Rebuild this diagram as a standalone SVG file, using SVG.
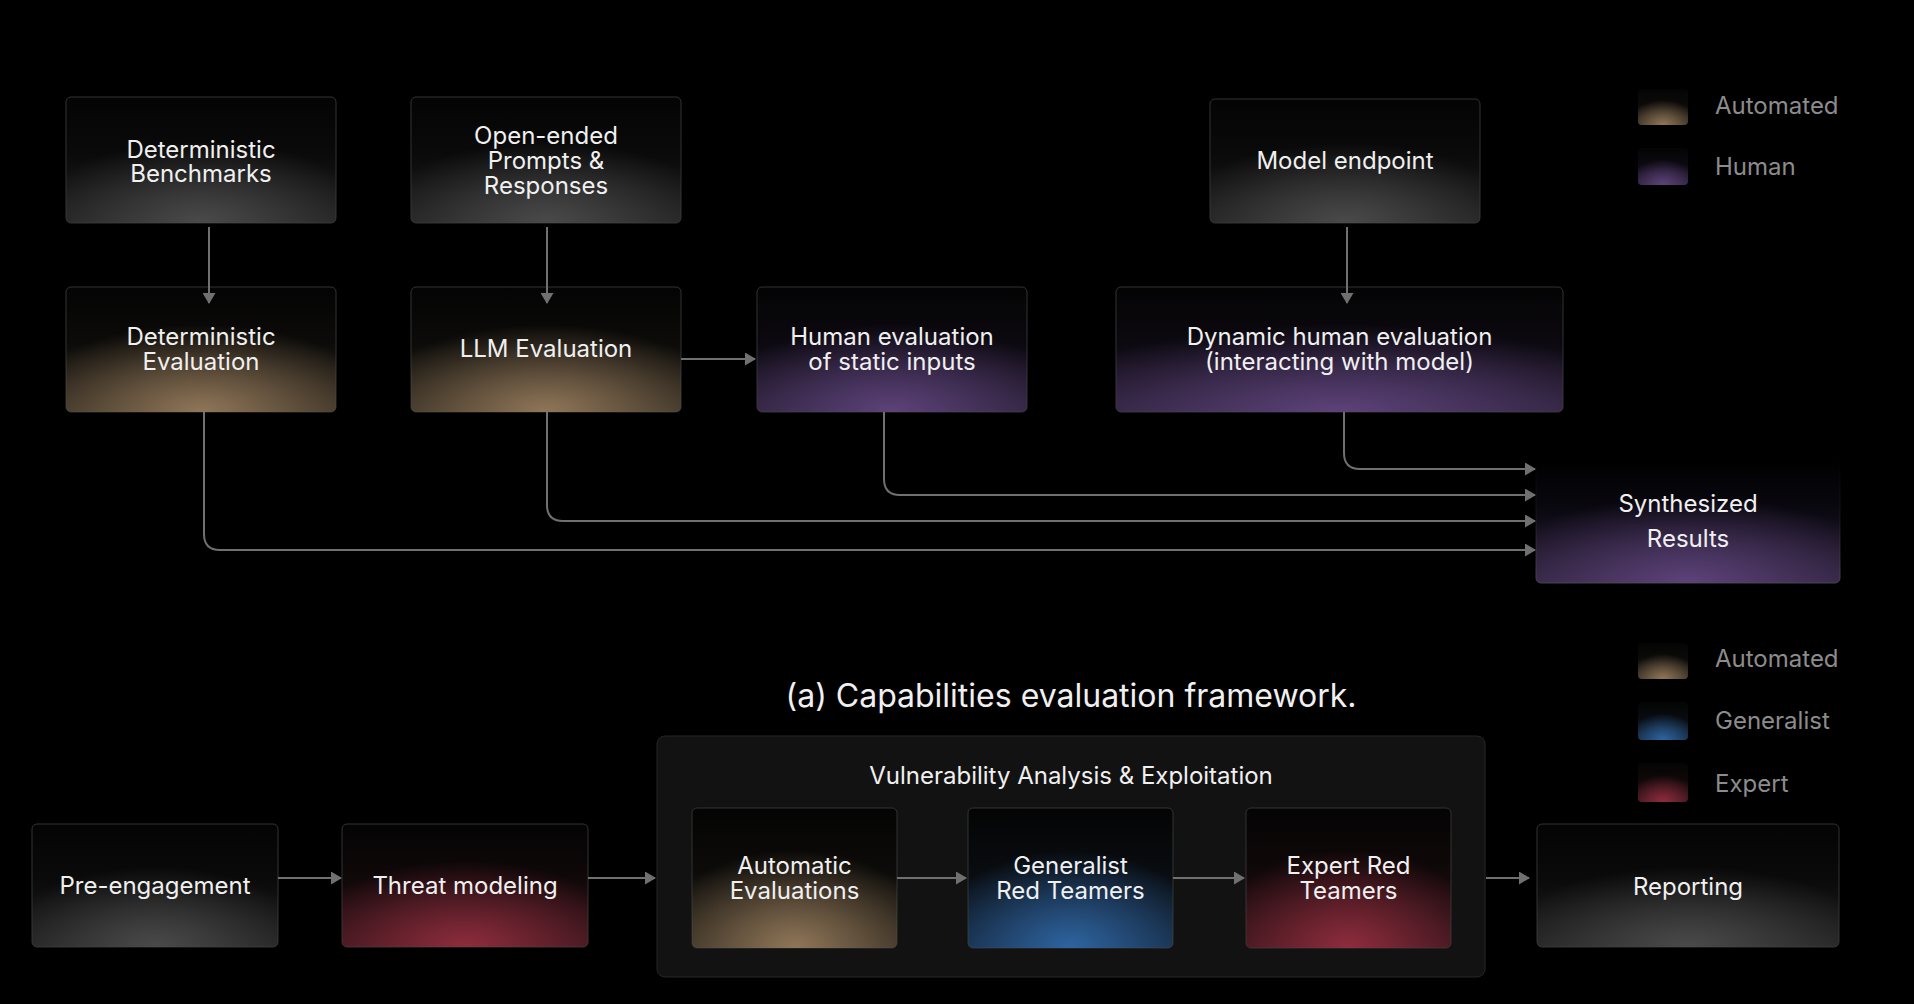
<svg xmlns="http://www.w3.org/2000/svg" width="1914" height="1004" viewBox="0 0 1914 1004">
<style>
.t{font-family:Inter,"Noto Sans","Liberation Sans",sans-serif;font-size:24px;fill:#f0f0f0;text-anchor:middle}
.tl{font-size:24px}
.cap{font-family:Inter,"Noto Sans","Liberation Sans",sans-serif;font-size:32px;fill:#f0f0f0;text-anchor:middle}
.lg{font-family:Inter,"Noto Sans","Liberation Sans",sans-serif;font-size:24px;fill:#8c8c8c}
.box{stroke:#333333;stroke-width:1}
.glow{stroke:none}
.conn{stroke:#707070;stroke-width:2;fill:none;marker-end:url(#arr)}
</style>
<defs>
<marker id="arr" markerUnits="userSpaceOnUse" markerWidth="11" markerHeight="13" refX="10" refY="6.5" orient="auto">
<path d="M0,0 L11,6.5 L0,13 z" fill="#707070"/>
</marker>
<linearGradient id="gN" x1="0" y1="0" x2="0" y2="1"><stop offset="0" stop-color="#040404"/><stop offset="0.45" stop-color="#0a0a0a"/><stop offset="1" stop-color="#202020"/></linearGradient>
<radialGradient id="rN" cx="0.5" cy="1" r="0.65"><stop offset="0" stop-color="#4a4a4a"/><stop offset="1" stop-color="#4a4a4a" stop-opacity="0"/></radialGradient>
<linearGradient id="hN" x1="0" y1="0" x2="1" y2="0"><stop offset="0" stop-color="#555" stop-opacity="0.3"/><stop offset="0.5" stop-color="#9a9a9a"/><stop offset="1" stop-color="#555" stop-opacity="0.3"/></linearGradient>

<linearGradient id="gA" x1="0" y1="0" x2="0" y2="1"><stop offset="0" stop-color="#040404"/><stop offset="0.45" stop-color="#0c0b09"/><stop offset="1" stop-color="#2f291f"/></linearGradient>
<radialGradient id="rA" cx="0.5" cy="1" r="0.7"><stop offset="0" stop-color="#907658"/><stop offset="1" stop-color="#907658" stop-opacity="0"/></radialGradient>
<linearGradient id="hA" x1="0" y1="0" x2="1" y2="0"><stop offset="0" stop-color="#6a5a44" stop-opacity="0.4"/><stop offset="0.5" stop-color="#e0c49a"/><stop offset="1" stop-color="#6a5a44" stop-opacity="0.4"/></linearGradient>

<linearGradient id="gH" x1="0" y1="0" x2="0" y2="1"><stop offset="0" stop-color="#040404"/><stop offset="0.45" stop-color="#0c0910"/><stop offset="1" stop-color="#2a1f37"/></linearGradient>
<radialGradient id="rH" cx="0.5" cy="1" r="0.7"><stop offset="0" stop-color="#5c4279"/><stop offset="1" stop-color="#5c4279" stop-opacity="0"/></radialGradient>
<linearGradient id="hH" x1="0" y1="0" x2="1" y2="0"><stop offset="0" stop-color="#4a3a5c" stop-opacity="0.4"/><stop offset="0.5" stop-color="#9c7cc0"/><stop offset="1" stop-color="#4a3a5c" stop-opacity="0.4"/></linearGradient>

<linearGradient id="gG" x1="0" y1="0" x2="0" y2="1"><stop offset="0" stop-color="#040404"/><stop offset="0.45" stop-color="#090c10"/><stop offset="1" stop-color="#14253a"/></linearGradient>
<radialGradient id="rG" cx="0.5" cy="1" r="0.7"><stop offset="0" stop-color="#2e64a0"/><stop offset="1" stop-color="#2e64a0" stop-opacity="0"/></radialGradient>
<linearGradient id="hG" x1="0" y1="0" x2="1" y2="0"><stop offset="0" stop-color="#2a4a70" stop-opacity="0.4"/><stop offset="0.5" stop-color="#5a96e0"/><stop offset="1" stop-color="#2a4a70" stop-opacity="0.4"/></linearGradient>

<linearGradient id="gE" x1="0" y1="0" x2="0" y2="1"><stop offset="0" stop-color="#040404"/><stop offset="0.45" stop-color="#100809"/><stop offset="1" stop-color="#33141b"/></linearGradient>
<radialGradient id="rE" cx="0.5" cy="1" r="0.7"><stop offset="0" stop-color="#8e2c3c"/><stop offset="1" stop-color="#8e2c3c" stop-opacity="0"/></radialGradient>
<linearGradient id="hE" x1="0" y1="0" x2="1" y2="0"><stop offset="0" stop-color="#6a2a34" stop-opacity="0.4"/><stop offset="0.5" stop-color="#e85468"/><stop offset="1" stop-color="#6a2a34" stop-opacity="0.4"/></linearGradient>

<linearGradient id="sS" x1="0" y1="0" x2="0" y2="1"><stop offset="0" stop-color="#333" stop-opacity="0"/><stop offset="0.5" stop-color="#333" stop-opacity="0.4"/><stop offset="1" stop-color="#444"/></linearGradient>
<linearGradient id="gS" x1="0" y1="0" x2="0" y2="1"><stop offset="0" stop-color="#000"/><stop offset="0.4" stop-color="#0a0810"/><stop offset="1" stop-color="#2c2139"/></linearGradient>
</defs>

<rect width="1914" height="1004" fill="#000"/>

<!-- top section nodes -->
<g id="det-bench">
<rect class="box" x="66" y="97" width="270" height="126" rx="5" fill="url(#gN)"/>
<rect class="glow" x="66" y="97" width="270" height="126" rx="5" fill="url(#rN)"/>
<line x1="70" y1="222.5" x2="332" y2="222.5" stroke="url(#hN)" stroke-width="1.5"/>
<text class="t" x="201" y="158">Deterministic</text>
<text class="t" x="201" y="182">Benchmarks</text>
</g>
<g id="open-ended">
<rect class="box" x="411" y="97" width="270" height="126" rx="5" fill="url(#gN)"/>
<rect class="glow" x="411" y="97" width="270" height="126" rx="5" fill="url(#rN)"/>
<line x1="415" y1="222.5" x2="677" y2="222.5" stroke="url(#hN)" stroke-width="1.5"/>
<text class="t" x="546" y="144">Open-ended</text>
<text class="t" x="546" y="169">Prompts &amp;</text>
<text class="t" x="546" y="194">Responses</text>
</g>
<g id="model-endpoint">
<rect class="box" x="1210" y="99" width="270" height="124" rx="5" fill="url(#gN)"/>
<rect class="glow" x="1210" y="99" width="270" height="124" rx="5" fill="url(#rN)"/>
<line x1="1214" y1="222.5" x2="1476" y2="222.5" stroke="url(#hN)" stroke-width="1.5"/>
<text class="t" x="1345" y="169">Model endpoint</text>
</g>
<g id="det-eval">
<rect class="box" x="66" y="287" width="270" height="125" rx="5" fill="url(#gA)"/>
<rect class="glow" x="66" y="287" width="270" height="125" rx="5" fill="url(#rA)"/>
<line x1="70" y1="411.5" x2="332" y2="411.5" stroke="url(#hA)" stroke-width="1.5"/>
<text class="t" x="201" y="345">Deterministic</text>
<text class="t" x="201" y="370">Evaluation</text>
</g>
<g id="llm-eval">
<rect class="box" x="411" y="287" width="270" height="125" rx="5" fill="url(#gA)"/>
<rect class="glow" x="411" y="287" width="270" height="125" rx="5" fill="url(#rA)"/>
<line x1="415" y1="411.5" x2="677" y2="411.5" stroke="url(#hA)" stroke-width="1.5"/>
<text class="t" x="546" y="357">LLM Evaluation</text>
</g>
<g id="human-eval">
<rect class="box" x="757" y="287" width="270" height="125" rx="5" fill="url(#gH)"/>
<rect class="glow" x="757" y="287" width="270" height="125" rx="5" fill="url(#rH)"/>
<line x1="761" y1="411.5" x2="1023" y2="411.5" stroke="url(#hH)" stroke-width="1.5"/>
<text class="t" x="892" y="345">Human evaluation</text>
<text class="t" x="892" y="370">of static inputs</text>
</g>
<g id="dynamic-eval">
<rect class="box" x="1116" y="287" width="447" height="125" rx="5" fill="url(#gH)"/>
<rect class="glow" x="1116" y="287" width="447" height="125" rx="5" fill="url(#rH)"/>
<line x1="1120" y1="411.5" x2="1559" y2="411.5" stroke="url(#hH)" stroke-width="1.5"/>
<text class="t" x="1339.5" y="345">Dynamic human evaluation</text>
<text class="t" x="1339.5" y="370">(interacting with model)</text>
</g>
<g id="synthesized">
<rect x="1536" y="460" width="304" height="123" rx="5" fill="url(#gS)" stroke="url(#sS)" stroke-width="1"/>
<rect class="glow" x="1536" y="460" width="304" height="123" rx="5" fill="url(#rH)"/>
<line x1="1540" y1="582.5" x2="1836" y2="582.5" stroke="url(#hH)" stroke-width="1" opacity="0.7"/>
<text class="t tl" x="1688" y="512">Synthesized</text>
<text class="t tl" x="1688" y="547">Results</text>
</g>

<!-- legend top -->
<g id="legend-top">
<rect x="1638" y="89" width="50" height="36" rx="4" fill="url(#gA)"/>
<rect x="1638" y="89" width="50" height="36" rx="4" fill="url(#rA)"/>
<line x1="1642" y1="124.5" x2="1684" y2="124.5" stroke="url(#hA)" stroke-width="1.5"/>
<text class="lg" x="1715" y="114">Automated</text>
<rect x="1638" y="148" width="50" height="37" rx="4" fill="url(#gH)"/>
<rect x="1638" y="148" width="50" height="37" rx="4" fill="url(#rH)"/>
<line x1="1642" y1="184.5" x2="1684" y2="184.5" stroke="url(#hH)" stroke-width="1.5"/>
<text class="lg" x="1715" y="175">Human</text>
</g>

<text class="cap" x="1071" y="707">(a) Capabilities evaluation framework.</text>

<!-- legend bottom -->
<g id="legend-bottom">
<rect x="1638" y="643" width="50" height="36" rx="4" fill="url(#gA)"/>
<rect x="1638" y="643" width="50" height="36" rx="4" fill="url(#rA)"/>
<line x1="1642" y1="678.5" x2="1684" y2="678.5" stroke="url(#hA)" stroke-width="1.5"/>
<text class="lg" x="1715" y="667">Automated</text>
<rect x="1638" y="702" width="50" height="38" rx="4" fill="url(#gG)"/>
<rect x="1638" y="702" width="50" height="38" rx="4" fill="url(#rG)"/>
<line x1="1642" y1="739.5" x2="1684" y2="739.5" stroke="url(#hG)" stroke-width="1.5"/>
<text class="lg" x="1715" y="729">Generalist</text>
<rect x="1638" y="763" width="50" height="39" rx="4" fill="url(#gE)"/>
<rect x="1638" y="763" width="50" height="39" rx="4" fill="url(#rE)"/>
<line x1="1642" y1="801.5" x2="1684" y2="801.5" stroke="url(#hE)" stroke-width="1.5"/>
<text class="lg" x="1715" y="792">Expert</text>
</g>

<!-- bottom section -->
<g id="vuln-container">
<rect x="657" y="736" width="828" height="241" rx="8" fill="#121212" stroke="#262626" stroke-width="1"/>
<text class="t" x="1071" y="784">Vulnerability Analysis &amp; Exploitation</text>
</g>
<g id="pre-engagement">
<rect class="box" x="32" y="824" width="246" height="123" rx="5" fill="url(#gN)"/>
<rect class="glow" x="32" y="824" width="246" height="123" rx="5" fill="url(#rN)"/>
<line x1="36" y1="946.5" x2="274" y2="946.5" stroke="url(#hN)" stroke-width="1.5"/>
<text class="t" x="155" y="894">Pre-engagement</text>
</g>
<g id="threat-modeling">
<rect class="box" x="342" y="824" width="246" height="123" rx="5" fill="url(#gE)"/>
<rect class="glow" x="342" y="824" width="246" height="123" rx="5" fill="url(#rE)"/>
<line x1="346" y1="946.5" x2="584" y2="946.5" stroke="url(#hE)" stroke-width="1.5"/>
<text class="t" x="465" y="894">Threat modeling</text>
</g>
<g id="automatic-evals">
<rect class="box" x="692" y="808" width="205" height="140" rx="5" fill="url(#gA)"/>
<rect class="glow" x="692" y="808" width="205" height="140" rx="5" fill="url(#rA)"/>
<line x1="696" y1="947.5" x2="893" y2="947.5" stroke="url(#hA)" stroke-width="1.5"/>
<text class="t" x="794.5" y="874">Automatic</text>
<text class="t" x="794.5" y="899">Evaluations</text>
</g>
<g id="generalist">
<rect class="box" x="968" y="808" width="205" height="140" rx="5" fill="url(#gG)"/>
<rect class="glow" x="968" y="808" width="205" height="140" rx="5" fill="url(#rG)"/>
<line x1="972" y1="947.5" x2="1169" y2="947.5" stroke="url(#hG)" stroke-width="1.5"/>
<text class="t" x="1070.5" y="874">Generalist</text>
<text class="t" x="1070.5" y="899">Red Teamers</text>
</g>
<g id="expert">
<rect class="box" x="1246" y="808" width="205" height="140" rx="5" fill="url(#gE)"/>
<rect class="glow" x="1246" y="808" width="205" height="140" rx="5" fill="url(#rE)"/>
<line x1="1250" y1="947.5" x2="1447" y2="947.5" stroke="url(#hE)" stroke-width="1.5"/>
<text class="t" x="1348.5" y="874">Expert Red</text>
<text class="t" x="1348.5" y="899">Teamers</text>
</g>
<g id="reporting">
<rect class="box" x="1537" y="824" width="302" height="123" rx="5" fill="url(#gN)"/>
<rect class="glow" x="1537" y="824" width="302" height="123" rx="5" fill="url(#rN)"/>
<line x1="1541" y1="946.5" x2="1835" y2="946.5" stroke="url(#hN)" stroke-width="1.5"/>
<text class="t tl" x="1688" y="895">Reporting</text>
</g>

<!-- connectors -->
<g id="connectors">
<path class="conn" d="M209 227 V303"/>
<path class="conn" d="M547 227 V303"/>
<path class="conn" d="M1347 227 V303"/>
<path class="conn" d="M681 359 H755"/>
<path class="conn" d="M204 412 V534 Q204 550 220 550 H1535"/>
<path class="conn" d="M547 412 V505 Q547 521 563 521 H1535"/>
<path class="conn" d="M884 412 V479 Q884 495 900 495 H1535"/>
<path class="conn" d="M1344 412 V453 Q1344 469 1360 469 H1535"/>
<path class="conn" d="M278 878 H341"/>
<path class="conn" d="M588 878 H655"/>
<path class="conn" d="M897 878 H966"/>
<path class="conn" d="M1173 878 H1244"/>
<path class="conn" d="M1486 878 H1529"/>
</g>
</svg>
